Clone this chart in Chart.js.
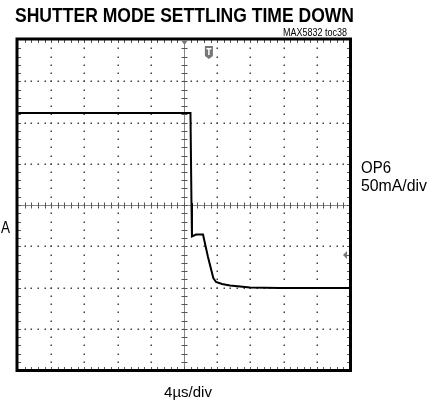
<!DOCTYPE html>
<html>
<head>
<meta charset="utf-8">
<script src="https://cdn.jsdelivr.net/npm/chart.js@4"></script>
<style>
  html, body { margin: 0; padding: 0; background: #fff; }
  canvas { display: block; }
</style>
</head>
<body>
<canvas id="scope" width="438" height="408"></canvas>
<script>
// trace: time in us (4us/div), current in mA (50mA/div)
const timeUs = [-20, 0.78, 0.90, 0.96, 1.45, 2.29, 2.89, 3.53, 3.86, 4.58, 5.54, 7.95, 11.57, 20];
const currentMa = [111.5, 111.5, 2.4, -38.2, -35.8, -35.8, -63, -88.5, -93.3, -95.8, -97.6, -100, -100.6, -100.6];

const xDivs = [-20, -16, -12, -8, -4, 0, 4, 8, 12, 16, 20];
const yDivs = [-200, -150, -100, -50, 0, 50, 100, 150, 200];

const titleText = "SHUTTER MODE SETTLING TIME DOWN";
const noteText = "MAX5832 toc38";
const chanLabel = ["OP6", "50mA/div"];
const timeLabel = "4\u00b5s/div";
const zeroLabel = "A";
const triggerUs = 3.0;     // "T" marker
const refLevelMa = -60.6;  // ground arrow on right edge

const FONT = '"Liberation Sans", Arial, sans-serif';

// grid, crosshair, border and text like the scope screen
const scopeFrame = {
	id: "scopeFrame",
	beforeDatasetsDraw(chart) {
		const ctx = chart.ctx;
		const a = chart.chartArea;
		const xs = chart.scales.x, ys = chart.scales.y;
		ctx.save();
		// dotted grid
		ctx.fillStyle = "#444";
		for (let j = 1; j < yDivs.length - 1; j++) {
			if (yDivs[j] === 0) continue;
			const y = Math.round(ys.getPixelForValue(yDivs[j]));
			for (let k = 1; k < 50; k++) {
				const x = xs.getPixelForValue(-20 + k * 0.8);
				ctx.fillRect(Math.round(x) - 0.5, y - 0.5, 1.5, 1.5);
			}
		}
		for (let i = 1; i < xDivs.length - 1; i++) {
			if (xDivs[i] === 0) continue;
			const x = Math.round(xs.getPixelForValue(xDivs[i]));
			for (let k = 1; k < 40; k++) {
				const y = ys.getPixelForValue(-200 + k * 10);
				ctx.fillRect(x - 0.5, Math.round(y) - 0.5, 1.5, 1.5);
			}
		}
		// center crosshair
		const cx = Math.round(xs.getPixelForValue(0)) + 0.5;
		const cy = Math.round(ys.getPixelForValue(0)) + 0.5;
		ctx.strokeStyle = "#888";
		ctx.lineWidth = 1;
		ctx.beginPath();
		ctx.moveTo(a.left, cy); ctx.lineTo(a.right, cy);
		ctx.moveTo(cx, a.top); ctx.lineTo(cx, a.bottom);
		ctx.stroke();
		ctx.strokeStyle = "#555";
		ctx.beginPath();
		for (let k = 1; k < 50; k++) {
			const x = Math.round(xs.getPixelForValue(-20 + k * 0.8)) + 0.5;
			ctx.moveTo(x, cy - 3); ctx.lineTo(x, cy + 3);
		}
		for (let k = 1; k < 40; k++) {
			const y = Math.round(ys.getPixelForValue(-200 + k * 10)) + 0.5;
			ctx.moveTo(cx - 3, y); ctx.lineTo(cx + 3, y);
		}
		// ticks along the inside of the frame
		for (let k = 1; k < 50; k++) {
			const x = Math.round(xs.getPixelForValue(-20 + k * 0.8)) + 0.5;
			ctx.moveTo(x, a.top); ctx.lineTo(x, a.top + 3);
			ctx.moveTo(x, a.bottom); ctx.lineTo(x, a.bottom - 3);
		}
		for (let k = 1; k < 40; k++) {
			const y = Math.round(ys.getPixelForValue(-200 + k * 10)) + 0.5;
			ctx.moveTo(a.left, y); ctx.lineTo(a.left + 3, y);
			ctx.moveTo(a.right, y); ctx.lineTo(a.right - 3, y);
		}
		ctx.stroke();
		ctx.restore();
	},
	afterDraw(chart) {
		const ctx = chart.ctx;
		const a = chart.chartArea;
		const xs = chart.scales.x, ys = chart.scales.y;
		ctx.save();
		// frame
		ctx.strokeStyle = "#000";
		ctx.lineWidth = 3;
		ctx.strokeRect(a.left - 1, a.top - 1, a.right - a.left + 1.5, a.bottom - a.top + 1.5);

		// trigger position arrow at top
		const cx = xs.getPixelForValue(0) + 0.5;
		ctx.fillStyle = "#777";
		ctx.beginPath();
		ctx.moveTo(cx - 3.5, a.top); ctx.lineTo(cx + 3.5, a.top); ctx.lineTo(cx, a.top + 5);
		ctx.closePath(); ctx.fill();

		// "T" trigger level marker
		const tx = xs.getPixelForValue(triggerUs);
		ctx.fillStyle = "#777";
		ctx.beginPath();
		ctx.moveTo(tx - 4, a.top + 6);
		ctx.lineTo(tx + 4, a.top + 6);
		ctx.lineTo(tx + 4, a.top + 16);
		ctx.lineTo(tx, a.top + 19);
		ctx.lineTo(tx - 4, a.top + 16);
		ctx.closePath(); ctx.fill();
		ctx.fillStyle = "#fff";
		ctx.fillRect(tx - 2.5, a.top + 8, 5, 1.5);
		ctx.fillRect(tx - 0.75, a.top + 8, 1.5, 7);

		// reference arrow on right edge
		const ry = ys.getPixelForValue(refLevelMa);
		ctx.fillStyle = "#777";
		ctx.beginPath();
		ctx.moveTo(a.right - 7, ry);
		ctx.lineTo(a.right - 3, ry - 4);
		ctx.lineTo(a.right - 3, ry + 4);
		ctx.closePath(); ctx.fill();

		// texts
		ctx.fillStyle = "#000";
		ctx.textBaseline = "alphabetic";
		ctx.textAlign = "left";
		ctx.font = "bold 21px " + FONT;
		ctx.fillText(titleText, 15, 21.5, 339);
		ctx.font = "11px " + FONT;
		ctx.textAlign = "right";
		ctx.fillText(noteText, 347, 36, 64);
		ctx.textAlign = "left";
		ctx.font = "17px " + FONT;
		ctx.fillText(chanLabel[0], 361, 173, 30);
		ctx.fillText(chanLabel[1], 361, 190.5, 66);
		ctx.fillText(zeroLabel, 1, 232.5, 9);
		ctx.font = "15px " + FONT;
		ctx.textAlign = "center";
		ctx.fillText(timeLabel, 188, 397, 57);
		ctx.restore();
	}
};

const points = timeUs.map((t, i) => ({ x: t, y: currentMa[i] }));

new Chart(document.getElementById("scope"), {
	type: "line",
	data: {
		datasets: [{
			data: points,
			borderColor: "#000",
			borderWidth: 2,
			pointRadius: 0,
			fill: false,
			tension: 0
		}]
	},
	options: {
		responsive: false,
		animation: false,
		devicePixelRatio: 1,
		layout: { padding: { left: 18, top: 40, right: 88, bottom: 38 } },
		plugins: {
			legend: { display: false },
			tooltip: { enabled: false }
		},
		scales: {
			x: { type: "linear", min: -20, max: 20, display: false },
			y: { type: "linear", min: -200, max: 200, display: false }
		}
	},
	plugins: [scopeFrame]
});
</script>
</body>
</html>
